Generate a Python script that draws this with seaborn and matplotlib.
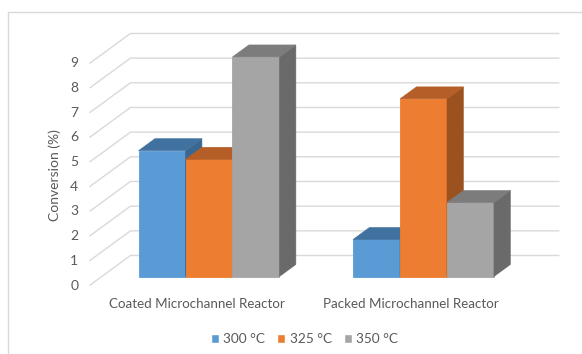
import matplotlib
matplotlib.use("Agg")
import matplotlib.pyplot as plt
import numpy as np
import pandas as pd
import seaborn as sns
from matplotlib.patches import Polygon
from matplotlib.lines import Line2D

# ---- data -------------------------------------------------------------
reactors = ["Coated Microchannel Reactor", "Packed Microchannel Reactor"]
temperatures = ["300 °C", "325 °C", "350 °C"]
conv_300 = [5.1, 1.5]
conv_325 = [4.75, 7.2]
conv_350 = [8.9, 3.0]
y_ticks = list(range(10))
y_label = "Conversion (%)"

df = pd.DataFrame({
    "reactor": reactors * 3,
    "temperature": [t for t in temperatures for _ in reactors],
    "conversion": conv_300 + conv_325 + conv_350,
})

# ---- styling ----------------------------------------------------------
front_colors = ["#5B9BD5", "#ED7D31", "#A5A5A5"]
top_colors = ["#41729F", "#B65E27", "#7C7C7C"]
side_colors = ["#3A6790", "#9C521E", "#6A6A6A"]
grid_color = "#D9D9D9"
text_color = "#595959"

sns.set_theme(style="white")
plt.rcParams["font.family"] = ["Lato", "DejaVu Sans"]
plt.rcParams["font.size"] = 10

W, H = 582, 354
fig = plt.figure(figsize=(W / 100, H / 100), dpi=100)
ax = fig.add_axes([0, 0, 1, 1])

# ---- oblique projection (pixels) -------------------------------------
cat_px = 214.5      # pixels per category
unit_px = 24.67     # pixels per value unit
x0_px = 209.0       # centre of first category on the bar plane
y0_px = 276.5       # value 0 on the bar plane (from top)
dx = 41.0 / cat_px  # full depth offset, in category units
dy = 30.0 / unit_px # full depth offset, in value units
bar_plane = 0.3     # depth of the bar front faces
bar_depth = 0.4
n_cat = len(reactors)

sns.barplot(data=df, x="reactor", y="conversion", hue="temperature",
            order=reactors, hue_order=temperatures, palette=front_colors,
            saturation=1, width=0.657, errorbar=None, ax=ax, legend=True)

ax.set_xlim(-x0_px / cat_px, (W - x0_px) / cat_px)
ax.set_ylim(-(H - y0_px) / unit_px, y0_px / unit_px)
ax.axis("off")


def at_depth(x, y, d):
    """Shift a bar-plane point to depth d (0 = front of floor, 1 = back wall)."""
    return x + (d - bar_plane) * dx, y + (d - bar_plane) * dy


# walls: side-wall diagonals and back-wall gridlines
for v in y_ticks:
    fx, fy = at_depth(-0.5, v, 0.0)
    bx, by = at_depth(-0.5, v, 1.0)
    ex, _ = at_depth(n_cat - 0.5, v, 1.0)
    ax.plot([fx, bx, ex], [fy, by, by], color=grid_color, lw=1.0,
            zorder=1, solid_capstyle="butt")
    ax.annotate(str(v), xy=(fx, fy), xytext=(-8, 0), textcoords="offset points",
                ha="right", va="center", color=text_color, fontsize=10)

# category labels along the front edge of the floor
for i, name in enumerate(reactors):
    lx, ly = at_depth(i, 0, 0.0)
    ax.annotate(name, xy=(lx, ly), xytext=(0, -13.3), textcoords="offset points",
                ha="center", va="center", color=text_color, fontsize=9.6)

# extrude each bar: top and right side faces
bdx, bdy = bar_depth * dx, bar_depth * dy
for k, cont in enumerate(ax.containers):
    z = 3 + k
    for p in cont.patches:
        x, w, h = p.get_x(), p.get_width(), p.get_height()
        p.set_zorder(z)
        p.set_edgecolor(front_colors[k])
        p.set_linewidth(0.6)
        side = Polygon([(x + w, 0), (x + w + bdx, bdy), (x + w + bdx, h + bdy), (x + w, h)],
                       closed=True, facecolor=side_colors[k], edgecolor=side_colors[k],
                       lw=0.4, zorder=z)
        top = Polygon([(x, h), (x + w, h), (x + w + bdx, h + bdy), (x + bdx, h + bdy)],
                      closed=True, facecolor=top_colors[k], edgecolor=top_colors[k],
                      lw=0.4, zorder=z)
        ax.add_patch(side)
        ax.add_patch(top)

# legend below the plot
sns.move_legend(ax, "center", bbox_to_anchor=(304.5 / W, 1 - 339 / H), ncol=3,
                frameon=False, title=None, handlelength=0.6, handleheight=0.6,
                handletextpad=0.3, columnspacing=0.9, fontsize=9.8,
                labelcolor=text_color)

# axis title
fig.text(55 / W, 1 - 175 / H, y_label, rotation=90, ha="center", va="center",
         color=text_color, fontsize=10)

# chart-area border
fig.add_artist(Line2D([8 / W, 8 / W], [0, 1 - 12 / H], transform=fig.transFigure,
                      color=grid_color, lw=1))
fig.add_artist(Line2D([8 / W, 1], [1 - 12 / H, 1 - 12 / H], transform=fig.transFigure,
                      color=grid_color, lw=1))

fig.savefig("out.png", dpi=100, facecolor="white")
